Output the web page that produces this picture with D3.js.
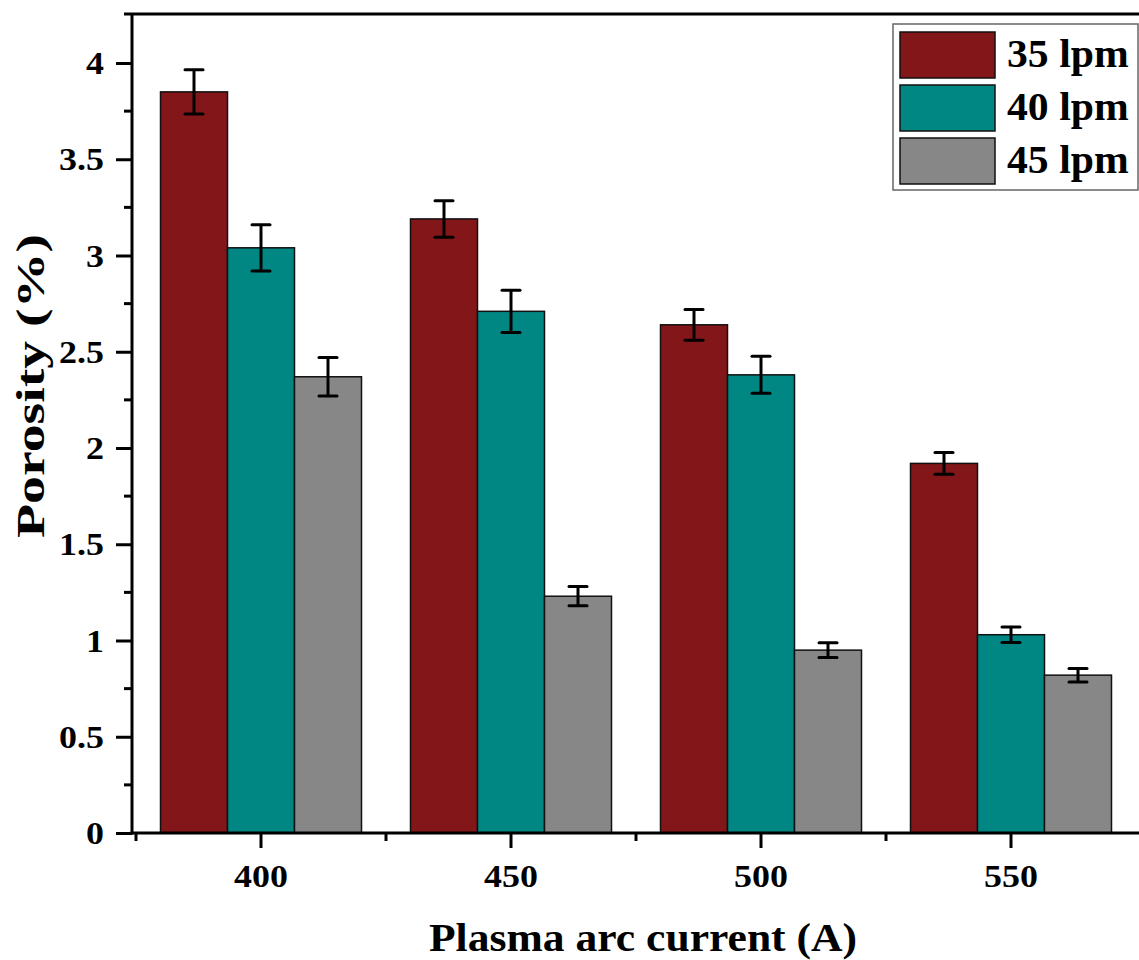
<!DOCTYPE html>
<html>
<head>
<meta charset="utf-8">
<script src="https://cdn.jsdelivr.net/npm/d3@7"></script>
<style>
  html, body { margin: 0; padding: 0; background: #fff; }
  svg { display: block; }
  text { font-family: "Liberation Serif", "Times New Roman", serif; font-weight: bold; fill: #000; }
</style>
</head>
<body>
<svg id="chart" width="1139" height="960"></svg>
<script>
// ---- data ----
const categories = ["400", "450", "500", "550"];
const seriesNames = ["35 lpm", "40 lpm", "45 lpm"];
const values35 = [3.85, 3.19, 2.64, 1.92];
const values40 = [3.04, 2.71, 2.38, 1.03];
const values45 = [2.37, 1.23, 0.95, 0.82];
const errors35 = [0.115, 0.095, 0.08, 0.056];
const errors40 = [0.12, 0.11, 0.096, 0.04];
const errors45 = [0.10, 0.05, 0.038, 0.035];
const yTicks = [0, 0.5, 1, 1.5, 2, 2.5, 3, 3.5, 4];
const yTickLabels = ["0", "0.5", "1", "1.5", "2", "2.5", "3", "3.5", "4"];
const colors = ["#831619", "#008683", "#878787"];

const seriesValues = [values35, values40, values45];
const seriesErrors = [errors35, errors40, errors45];

const svg = d3.select("#chart");
const axisLeftX = 132, axisBottomY = 833, axisTopY = 14;
const tickScaleX = 1.16;

const y = d3.scaleLinear().domain([0, 4.25]).range([axisBottomY, axisBottomY - 4.25 * 192.5]);
const x0 = d3.scaleBand().domain(categories).range([136, 1136]).paddingInner(0.196).paddingOuter(0.098);
const x1 = d3.scaleBand().domain(seriesNames).range([0, x0.bandwidth()]);

// bars
const groups = svg.append("g").selectAll("g").data(categories).join("g")
  .attr("transform", d => `translate(${x0(d)},0)`);

groups.each(function(cat, ci) {
  const g = d3.select(this);
  seriesNames.forEach((s, si) => {
    const v = seriesValues[si][ci];
    g.append("rect")
      .attr("x", x1(s))
      .attr("y", y(v))
      .attr("width", x1.bandwidth())
      .attr("height", y(0) - y(v))
      .attr("fill", colors[si])
      .attr("stroke", "#111")
      .attr("stroke-width", 1.5);
  });
});

// error bars
groups.each(function(cat, ci) {
  const g = d3.select(this);
  seriesNames.forEach((s, si) => {
    const v = seriesValues[si][ci], e = seriesErrors[si][ci];
    const cx = x1(s) + x1.bandwidth() / 2;
    const cap = 9;
    g.append("line").attr("x1", cx).attr("x2", cx).attr("y1", y(v + e)).attr("y2", y(v - e))
      .attr("stroke", "#000").attr("stroke-width", 3);
    [v + e, v - e].forEach(t => {
      g.append("line").attr("x1", cx - cap).attr("x2", cx + cap).attr("y1", y(t)).attr("y2", y(t))
        .attr("stroke", "#000").attr("stroke-width", 3).attr("stroke-linecap", "round");
    });
  });
});

// Y axis
const yAxis = d3.axisLeft(y).tickValues(yTicks).tickFormat((d, i) => yTickLabels[i]).tickSize(16).tickPadding(12);
const yg = svg.append("g").attr("transform", `translate(${axisLeftX},0)`).call(yAxis);
yg.select(".domain").remove();
yg.selectAll(".tick line").attr("stroke", "#000").attr("stroke-width", 3);
yg.selectAll(".tick text").style("font-size", "31px").attr("dy", "0.34em")
  .attr("x", -28 / tickScaleX).attr("transform", `scale(${tickScaleX},1)`);
// minor y ticks
const yMinor = yTicks.slice(0, -1).map(d => d + 0.25);
svg.append("g").selectAll("line").data(yMinor).join("line")
  .attr("x1", axisLeftX - 8).attr("x2", axisLeftX).attr("y1", d => y(d)).attr("y2", d => y(d))
  .attr("stroke", "#000").attr("stroke-width", 3);
svg.append("line").attr("x1", axisLeftX).attr("x2", axisLeftX).attr("y1", axisTopY).attr("y2", axisBottomY + 1.5)
  .attr("stroke", "#000").attr("stroke-width", 3);

// X axis
const xAxis = d3.axisBottom(x0).tickSize(15).tickPadding(17);
const xg = svg.append("g").attr("transform", `translate(0,${axisBottomY})`).call(xAxis);
xg.select(".domain").remove();
xg.selectAll(".tick line").attr("stroke", "#000").attr("stroke-width", 3);
xg.selectAll(".tick text").style("font-size", "31px").attr("transform", `scale(${tickScaleX},1)`);
// minor x ticks at group boundaries
const step = x0.step();
const xMinor = categories.map(c => x0(c) + x0.bandwidth() / 2 - step / 2);
svg.append("g").selectAll("line").data(xMinor).join("line")
  .attr("x1", d => d).attr("x2", d => d).attr("y1", axisBottomY).attr("y2", axisBottomY + 8)
  .attr("stroke", "#000").attr("stroke-width", 3);
svg.append("line").attr("x1", axisLeftX - 1.5).attr("x2", 1139).attr("y1", axisBottomY).attr("y2", axisBottomY)
  .attr("stroke", "#000").attr("stroke-width", 3);
// top frame
svg.append("line").attr("x1", 124).attr("x2", 1139).attr("y1", axisTopY).attr("y2", axisTopY)
  .attr("stroke", "#000").attr("stroke-width", 3);

// axis titles
svg.append("text").attr("transform", "translate(643,951) scale(1.09,1)").attr("text-anchor", "middle")
  .style("font-size", "40px").text("Plasma arc current (A)");
svg.append("text").attr("transform", "translate(44,386) rotate(-90) scale(1.36,1)").attr("text-anchor", "middle")
  .style("font-size", "41px").text("Porosity (%)");

// legend
const leg = svg.append("g");
leg.append("rect").attr("x", 893).attr("y", 24).attr("width", 245).attr("height", 166)
  .attr("fill", "#fff").attr("stroke", "#666").attr("stroke-width", 1.5);
seriesNames.forEach((s, i) => {
  const yy = 32 + i * 53;
  leg.append("rect").attr("x", 900).attr("y", yy).attr("width", 95).attr("height", 46)
    .attr("fill", colors[i]).attr("stroke", "#111").attr("stroke-width", 1.5);
  leg.append("text").attr("transform", `translate(1007,${yy + 23 + 12}) scale(1.07,1)`)
    .style("font-size", "39px").text(s);
});
</script>
</body>
</html>
